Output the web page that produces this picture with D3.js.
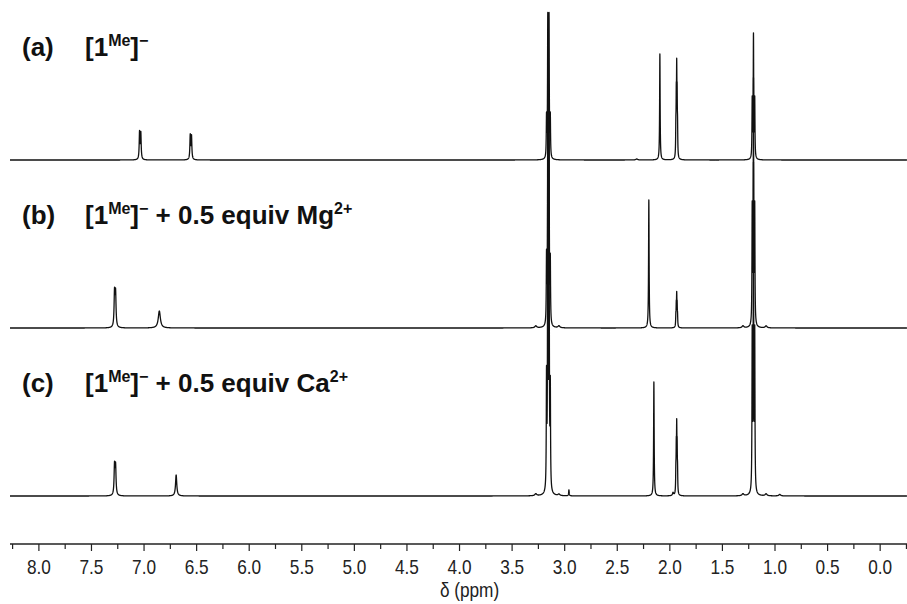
<!DOCTYPE html>
<html>
<head>
<meta charset="utf-8">
<script src="https://cdn.jsdelivr.net/npm/d3@7"></script>
<style>
  body { margin: 0; background: #fff; }
  svg { display: block; }
  .tag { font-family: "Liberation Sans", Arial, sans-serif; font-weight: 700; font-size: 26px; fill: #111; }
  .axis text { font-family: "Liberation Sans", Arial, sans-serif; font-size: 21px; fill: #222; }
</style>
</head>
<body>
<div id="chart"></div>
<script>
// 1H NMR stack: (a) free ligand, (b) + Mg2+, (c) + Ca2+

// peak lines: [ppm, height, half-width (ppm)]
const peaksA = [
  [7.038, 27, 0.004], [7.026, 26, 0.004],
  [6.556, 24, 0.004], [6.544, 23, 0.004],
  [3.168, 40, 0.0026], [3.156, 139, 0.0026], [3.144, 139, 0.0026], [3.132, 40, 0.0026],
  [2.090, 106, 0.0028],
  [1.938, 25, 0.0022], [1.934, 50, 0.0022], [1.930, 75, 0.0022], [1.926, 50, 0.0022], [1.922, 25, 0.0022],
  [1.212, 58, 0.0026], [1.200, 122, 0.0026], [1.188, 58, 0.0026],
  [2.31, 1, 0.01]
];
const peaksB = [
  [7.276, 34, 0.005], [7.266, 33, 0.005],
  [6.850, 17, 0.012],
  [3.27, 2, 0.01], [3.05, 2, 0.01],
  [3.168, 66, 0.0026], [3.156, 220, 0.0026], [3.144, 220, 0.0026], [3.132, 62, 0.0026],
  [2.195, 128, 0.003],
  [1.938, 9, 0.0022], [1.934, 18, 0.0022], [1.930, 27, 0.0022], [1.926, 18, 0.0022], [1.922, 9, 0.0022],
  [1.212, 115, 0.0026], [1.200, 240, 0.0026], [1.188, 115, 0.0026],
  [1.30, 2, 0.01], [1.08, 2, 0.01]
];
const peaksC = [
  [7.276, 29, 0.005], [7.266, 28, 0.005],
  [6.690, 21, 0.007],
  [3.27, 2, 0.01], [3.05, 1.5, 0.01], [2.955, 6, 0.003],
  [3.168, 110, 0.0026], [3.156, 355, 0.0026], [3.144, 355, 0.0026], [3.132, 100, 0.0026],
  [2.147, 114, 0.003],
  [1.938, 19, 0.0022], [1.934, 38, 0.0022], [1.930, 57, 0.0022], [1.926, 38, 0.0022], [1.922, 19, 0.0022],
  [1.965, 3, 0.006],
  [1.212, 155, 0.0026], [1.200, 320, 0.0026], [1.188, 155, 0.0026],
  [1.30, 2, 0.01], [1.08, 2, 0.01], [0.95, 1.5, 0.01]
];

const traces = [peaksA, peaksB, peaksC];
const traceOffsets = [384, 216, 48];      // baseline of each trace, intensity units above the axis
const tagLabels = ['(a)', '(b)', '(c)'];
const ionLabels = ['', 'Mg', 'Ca'];

const ppmDomain = [8.27, -0.26];
const majorTicks = [8.0, 7.5, 7.0, 6.5, 6.0, 5.5, 5.0, 4.5, 4.0, 3.5, 3.0, 2.5, 2.0, 1.5, 1.0, 0.5, 0.0];
const minorTicks = [8.25, 7.75, 7.25, 6.75, 6.25, 5.75, 5.25, 4.75, 4.25, 3.75, 3.25, 2.75, 2.25, 1.75, 1.25, 0.75, 0.25, -0.25];
const axisTitle = 'δ (ppm)';

const width = 907, height = 604;
const axisY = 544;

const svg = d3.select('#chart')
  .append('svg')
  .attr('width', width)
  .attr('height', height);

const x = d3.scaleLinear().domain(ppmDomain).range([10, 907]);
const y = d3.scaleLinear().domain([0, axisY]).range([axisY, 0]);

// sampling grid in ppm (fine enough for the sharp lines), plus the line centres
function spectrum(peaks) {
  const pts = d3.range(ppmDomain[0], ppmDomain[1], -0.0005);
  peaks.forEach(p => pts.push(p[0]));
  pts.sort((a, b) => b - a);
  return pts.map(ppm => {
    let v = 0;
    peaks.forEach(([c, h, w]) => {
      const d = ppm - c;
      v += h * w * w / (w * w + d * d);
    });
    return [ppm, v];
  });
}

svg.append('clipPath').attr('id', 'plot-clip')
  .append('rect').attr('x', 10).attr('y', 0).attr('width', 897).attr('height', axisY - 2);

const line = d3.line()
  .x(d => x(d[0]))
  .y(d => y(d[1]));

traces.forEach((peaks, i) => {
  const data = spectrum(peaks).map(d => [d[0], d[1] + traceOffsets[i]]);
  svg.append('path')
    .datum(data)
    .attr('clip-path', 'url(#plot-clip)')
    .attr('fill', 'none')
    .attr('stroke', '#111')
    .attr('stroke-width', 1.3)
    .attr('stroke-linejoin', 'round')
    .attr('d', line);
});

// trace labels
traces.forEach((peaks, i) => {
  const baseY = y(traceOffsets[i]) - 104;
  svg.append('text').attr('class', 'tag')
    .attr('x', 22).attr('y', baseY)
    .text(tagLabels[i]);

  const t = svg.append('text').attr('class', 'tag')
    .attr('x', 85).attr('y', baseY);
  t.append('tspan').text('[1');
  t.append('tspan').attr('font-size', 16).attr('dy', -10).text('Me');
  t.append('tspan').attr('dy', 10).text(']');
  t.append('tspan').attr('font-size', 16).attr('dy', -10).text('−');
  if (ionLabels[i]) {
    t.append('tspan').attr('dy', 10).text(' + 0.5 equiv ' + ionLabels[i]);
    t.append('tspan').attr('font-size', 16).attr('dy', -10).text('2+');
  }
});

// axis
const axisG = svg.append('g')
  .attr('class', 'axis')
  .attr('transform', `translate(0,${axisY})`);

axisG.append('g')
  .call(d3.axisBottom(x).tickValues(minorTicks).tickSize(5).tickFormat(''))
  .call(g => g.select('.domain').remove());

axisG.append('g')
  .call(d3.axisBottom(x).tickValues(majorTicks).tickSize(7).tickPadding(8).tickFormat(d3.format('.1f')))
  .call(g => g.select('.domain').remove())
  .selectAll('text')
  .attr('transform', 'scale(0.82,1)');

axisG.append('line')
  .attr('x1', 10).attr('x2', 907)
  .attr('stroke', '#222').attr('stroke-width', 1.3);

axisG.selectAll('.tick line').attr('stroke', '#222').attr('stroke-width', 1.2);

axisG.append('text')
  .attr('transform', `translate(${x(3.9)},53) scale(0.82,1)`)
  .attr('text-anchor', 'middle')
  .text(axisTitle);
</script>
</body>
</html>
